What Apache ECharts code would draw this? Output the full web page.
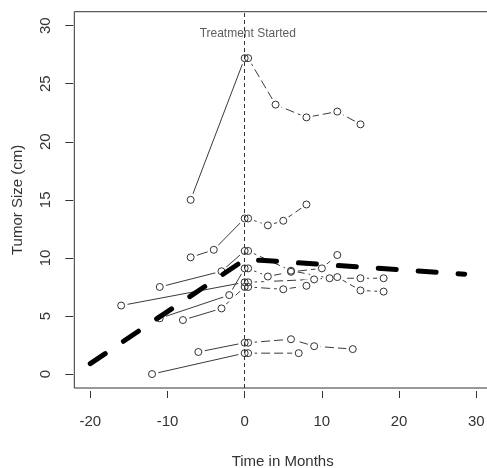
<!DOCTYPE html>
<html>
<head>
<meta charset="utf-8">
<script src="https://cdn.jsdelivr.net/npm/echarts@6/dist/echarts.min.js"></script>
<style>
  html, body { margin: 0; padding: 0; background: #fff; }
  #chart { width: 487px; height: 468px; }
</style>
</head>
<body>
<div id="chart"></div>
<script>
// each patient: measurements before treatment (ending at month 0)
const preTimes = [[-7, 0], [-7, -4, 0], [-11, -3, 0], [-16, 0], [-11, -2, 0], [-8, -3, 0], [-6, 0], [-12, 0]];
const preSizes = [[15, 27.2], [10.05, 10.7, 13.4], [7.5, 8.85, 10.6], [5.9, 7.9], [4.8, 6.8, 9.1], [4.65, 5.65, 7.5], [1.9, 2.7], [0, 1.8]];
// and after treatment (baseline repeated just right of 0)
const postTimes = [[0.45, 4, 8, 12, 15], [0.45, 3, 5, 8], [0.45, 6, 11, 15, 18], [0.45, 9, 12, 15, 18], [0.45, 3, 6, 10, 12], [0.45, 5, 8], [0.45, 6, 9, 14], [0.45, 7]];
const postSizes = [[27.2, 23.2, 22.1, 22.6, 21.5], [13.4, 12.8, 13.2, 14.6], [10.6, 8.9, 8.25, 8.25, 8.25], [7.9, 8.15, 8.35, 7.2, 7.1], [9.1, 8.4, 8.8, 9.1, 10.25], [7.5, 7.3, 7.6], [2.7, 3.0, 2.4, 2.15], [1.8, 1.8]];
// average trend
const meanTimes = [-20, 0, 2, 28.5];
const meanSizes = [0.9, 9.85, 9.8, 8.6];

const xTicks = [-20, -10, 0, 10, 20, 30];
const yTicks = [0, 5, 10, 15, 20, 25, 30];
const noteText = 'Treatment Started';
const noteX = 0.4;
const noteY = 29.3;

const FONT = 'Liberation Sans';
const INK = '#333';

const zip = (xs, ys) => xs.map((x, i) => [x, ys[i]]);

const series = [];
const allPoints = [];

preTimes.forEach((t, i) => {
  const pts = zip(t, preSizes[i]);
  allPoints.push(...pts);
  series.push({
    type: 'line', data: pts, symbol: 'none', z: 2, silent: true,
    lineStyle: { color: '#3a3a3a', width: 1 }
  });
});

postTimes.forEach((t, i) => {
  const pts = zip(t, postSizes[i]);
  allPoints.push(...pts);
  series.push({
    type: 'line', data: pts, symbol: 'none', z: 2, silent: true,
    lineStyle: { color: '#3a3a3a', width: 1, type: [9, 4] }
  });
});

// white disks make the little gaps round each point (like type="b")
series.push({
  type: 'scatter', data: allPoints, symbolSize: 13, z: 3, silent: true,
  itemStyle: { color: '#fff', opacity: 1 }
});
series.push({
  type: 'scatter', data: allPoints, symbolSize: 7, z: 4, silent: true,
  itemStyle: { color: 'rgba(0,0,0,0)', borderColor: INK, borderWidth: 1, opacity: 1 }
});

series.push({
  type: 'line', data: zip(meanTimes, meanSizes), symbol: 'none', z: 5, silent: true,
  lineStyle: { color: '#000', width: 5, type: [18, 22], cap: 'round', join: 'round' },
  markLine: {
    silent: true, symbol: ['none', 'none'], label: { show: false },
    lineStyle: { color: INK, width: 1, type: [4, 3] },
    data: [{ xAxis: 0 }]
  }
});

series.push({
  type: 'scatter', data: [[noteX, noteY]], symbolSize: 0, z: 6, silent: true,
  label: {
    show: true, position: 'inside', formatter: noteText,
    fontFamily: FONT, fontSize: 12, color: INK
  }
});

const chart = echarts.init(document.getElementById('chart'));
chart.setOption({
  animation: false,
  backgroundColor: '#fff',
  grid: {
    left: 74.3, right: -4, top: 11.7, bottom: 80,
    outerBoundsMode: 'none', containLabel: false,
    show: true, borderColor: INK, borderWidth: 1, backgroundColor: 'transparent'
  },
  xAxis: {
    type: 'value', min: -22.07, max: 31.91, offset: 3, position: 'bottom',
    axisLine: { show: false, onZero: false },
    splitLine: { show: false },
    axisTick: { show: true, length: 7, lineStyle: { color: INK }, customValues: xTicks },
    axisLabel: { customValues: xTicks, fontFamily: FONT, fontSize: 15, color: INK, margin: 23 },
    name: 'Time in Months', nameLocation: 'middle', nameGap: 63,
    nameTextStyle: { fontFamily: FONT, fontSize: 15, color: INK }
  },
  yAxis: {
    type: 'value', min: -1.2, max: 31.2, offset: 1, position: 'left',
    axisLine: { show: false, onZero: false },
    splitLine: { show: false },
    axisTick: { show: true, length: 8, lineStyle: { color: INK }, customValues: yTicks },
    axisLabel: { customValues: yTicks, rotate: 90, fontFamily: FONT, fontSize: 15, color: INK, margin: 20 },
    name: 'Tumor Size (cm)', nameLocation: 'middle', nameGap: 48,
    nameTextStyle: { fontFamily: FONT, fontSize: 15, color: INK }
  },
  series: series
});
</script>
</body>
</html>
